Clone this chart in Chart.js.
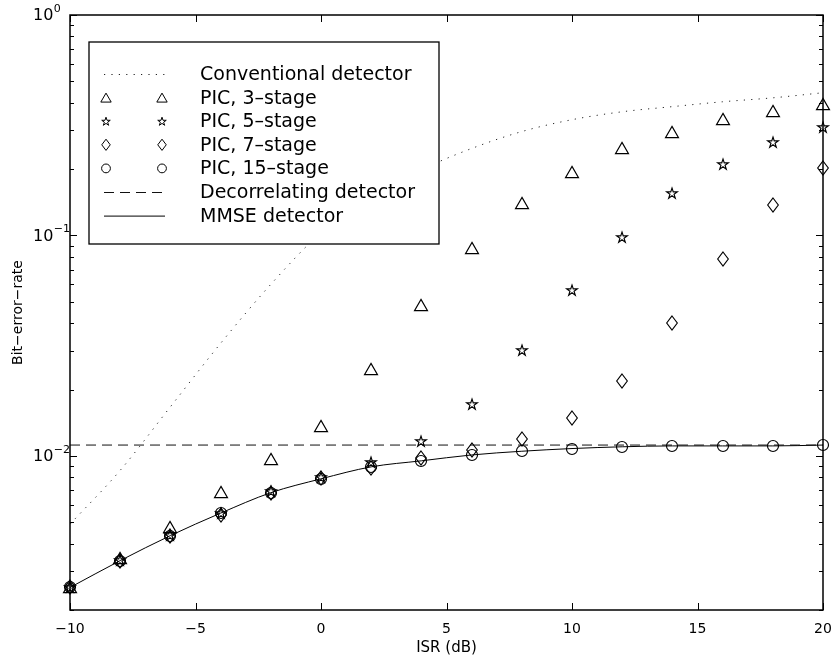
<!DOCTYPE html>
<html>
<head>
<meta charset="utf-8">
<title>Bit-error-rate vs ISR</title>
<script src="https://cdn.jsdelivr.net/npm/chart.js@4/dist/chart.umd.min.js"></script>
<style>
  html, body { margin: 0; padding: 0; background: #fff; }
  #wrap { width: 833px; height: 657px; }
</style>
</head>
<body>
<div id="wrap"><canvas id="ber" width="833" height="657"></canvas></div>
<script>
// Interference-to-signal ratio grid (dB)
const isr = [-10, -8, -6, -4, -2, 0, 2, 4, 6, 8, 10, 12, 14, 16, 18, 20];

// Bit-error-rate per detector
const conventional = [0.0049, 0.0086, 0.0167, 0.0324, 0.060, 0.103, 0.152, 0.199, 0.248, 0.296, 0.335, 0.364, 0.384, 0.404, 0.421, 0.444];
const pic3  = [0.00255, 0.00346, 0.00477, 0.00687, 0.0097, 0.0137, 0.0248, 0.0482, 0.0873, 0.140, 0.195, 0.250, 0.296, 0.338, 0.368, 0.396];
const pic5  = [0.00253, 0.00337, 0.0044, 0.0055, 0.0069, 0.0080, 0.0094, 0.0117, 0.0172, 0.0302, 0.0564, 0.0989, 0.155, 0.212, 0.266, 0.311];
const pic7  = [0.00253, 0.00335, 0.00435, 0.0054, 0.0068, 0.0079, 0.0088, 0.0098, 0.0106, 0.0119, 0.0149, 0.0218, 0.040, 0.0778, 0.137, 0.203];
const pic15 = [0.00253, 0.00335, 0.00435, 0.0055, 0.00681, 0.00787, 0.00892, 0.0095, 0.0101, 0.0105, 0.0108, 0.0110, 0.0111, 0.0111, 0.0111, 0.0112];
const mmse  = [0.00253, 0.00335, 0.00435, 0.0055, 0.00681, 0.00787, 0.00892, 0.0095, 0.0101, 0.0105, 0.0108, 0.0110, 0.0111, 0.0111, 0.0111, 0.0112];
const decorrelatingIsr = [-10, 20];
const decorrelating = [0.0112, 0.0112];

// Axis ticks
const xTicks = [-10, -5, 0, 5, 10, 15, 20];
const yDecades = [1, 0.1, 0.01];

const FONT = '"DejaVu Sans", "Liberation Sans", sans-serif';

// Marker outlines in the style of classic plotting markers
function markerPath(ctx, kind, cx, cy, s) {
  ctx.beginPath();
  if (kind === 'triangle') {
    const w = 6.5 * s, h = 5.6 * s;
    ctx.moveTo(cx, cy - h);
    ctx.lineTo(cx + w, cy + h);
    ctx.lineTo(cx - w, cy + h);
    ctx.closePath();
  } else if (kind === 'pentagram') {
    const R = 5.6 * s, r = R * 0.382;
    for (let i = 0; i < 10; i++) {
      const ang = -Math.PI / 2 + i * Math.PI / 5;
      const rad = i % 2 ? r : R;
      const px = cx + rad * Math.cos(ang), py = cy + rad * Math.sin(ang) + 0.6 * s;
      if (i === 0) ctx.moveTo(px, py); else ctx.lineTo(px, py);
    }
    ctx.closePath();
  } else if (kind === 'diamond') {
    const w = 5.3 * s, h = 7 * s;
    ctx.moveTo(cx, cy - h);
    ctx.lineTo(cx + w, cy);
    ctx.lineTo(cx, cy + h);
    ctx.lineTo(cx - w, cy);
    ctx.closePath();
  } else if (kind === 'circle') {
    ctx.arc(cx, cy, 5.5 * s, 0, Math.PI * 2);
  }
}

function markerImage(kind) {
  const c = document.createElement('canvas');
  c.width = 18; c.height = 18;
  const g = c.getContext('2d');
  g.strokeStyle = '#000';
  g.lineWidth = 1.15;
  markerPath(g, kind, 9, 9, 1);
  g.stroke();
  return c;
}

const markers = {
  triangle: markerImage('triangle'),
  pentagram: markerImage('pentagram'),
  diamond: markerImage('diamond'),
  circle: markerImage('circle')
};

const pts = (xs, ys) => xs.map((x, i) => ({ x, y: ys[i] }));

function markerSet(label, values, kind) {
  return {
    label, data: pts(isr, values), showLine: false,
    pointStyle: markers[kind], pointRadius: 8, pointHoverRadius: 8,
    borderColor: '#000', backgroundColor: 'rgba(0,0,0,0)',
    clip: false, marker: kind
  };
}

const datasets = [
  { label: 'Conventional detector', data: pts(isr, conventional), showLine: true,
    borderColor: '#222', borderWidth: 1, borderDash: [1.2, 6.2], pointRadius: 0,
    cubicInterpolationMode: 'monotone' },
  markerSet('PIC, 3\u2013stage', pic3, 'triangle'),
  markerSet('PIC, 5\u2013stage', pic5, 'pentagram'),
  markerSet('PIC, 7\u2013stage', pic7, 'diamond'),
  markerSet('PIC, 15\u2013stage', pic15, 'circle'),
  { label: 'Decorrelating detector', data: pts(decorrelatingIsr, decorrelating), showLine: true,
    borderColor: '#111', borderWidth: 1, borderDash: [10, 6], pointRadius: 0 },
  { label: 'MMSE detector', data: pts(isr, mmse), showLine: true,
    borderColor: '#000', borderWidth: 1, pointRadius: 0,
    cubicInterpolationMode: 'monotone' }
];

// Keep marker bitmaps crisp on the pixel grid
const crispMarkers = {
  id: 'crispMarkers',
  beforeDatasetsDraw(chart) { chart.ctx.imageSmoothingEnabled = false; },
  afterDatasetsDraw(chart) { chart.ctx.imageSmoothingEnabled = true; }
};

// Box, inward ticks and superscripted decade labels
const axisFrame = {
  id: 'axisFrame',
  afterDatasetsDraw(chart) {
    const { ctx, chartArea: a, scales: { x, y } } = chart;
    ctx.save();
    ctx.strokeStyle = '#000';
    ctx.lineWidth = 1;
    ctx.beginPath();
    xTicks.forEach(v => {
      const px = Math.round(x.getPixelForValue(v)) + 0.5;
      ctx.moveTo(px, a.bottom); ctx.lineTo(px, a.bottom - 7);
      ctx.moveTo(px, a.top); ctx.lineTo(px, a.top + 7);
    });
    for (let e = -3; e <= 0; e++) {
      for (let m = 1; m <= 9; m++) {
        const v = m * Math.pow(10, e);
        if (v < y.min * 0.999 || v > y.max * 1.001) continue;
        const len = m === 1 ? 7 : 4;
        const py = Math.round(y.getPixelForValue(v)) + 0.5;
        ctx.moveTo(a.left, py); ctx.lineTo(a.left + len, py);
        ctx.moveTo(a.right, py); ctx.lineTo(a.right - len, py);
      }
    }
    ctx.stroke();
    ctx.lineWidth = 1.5;
    ctx.strokeRect(a.left, a.top, a.width, a.height);

    ctx.fillStyle = '#000';
    ctx.textBaseline = 'middle';
    ctx.textAlign = 'left';
    yDecades.forEach(v => {
      const py = y.getPixelForValue(v);
      const exp = Math.round(Math.log10(v));
      ctx.font = '16px ' + FONT;
      ctx.fillText('10', 33, py + 1);
      const w = ctx.measureText('10').width;
      ctx.font = '11px ' + FONT;
      ctx.fillText(exp < 0 ? '\u2212' + (-exp) : String(exp), 33 + w + 0.5, py - 6);
    });
    ctx.restore();
  }
};

// Boxed legend in the upper-left of the plot
const boxLegend = {
  id: 'boxLegend',
  afterDraw(chart) {
    const { ctx } = chart;
    const box = { left: 89, top: 42, right: 439, bottom: 244 };
    const row0 = 74, rowStep = 23.6, x1 = 106, x2 = 162, textX = 200;
    ctx.save();
    ctx.fillStyle = '#fff';
    ctx.fillRect(box.left, box.top, box.right - box.left, box.bottom - box.top);
    ctx.strokeStyle = '#000';
    ctx.lineWidth = 1.3;
    ctx.strokeRect(box.left, box.top, box.right - box.left, box.bottom - box.top);
    chart.data.datasets.forEach((ds, i) => {
      const yy = row0 + i * rowStep;
      ctx.strokeStyle = ds.borderColor;
      ctx.lineWidth = 1;
      if (ds.marker) {
        [x1, x2].forEach(mx => { markerPath(ctx, ds.marker, mx, yy, 0.8); ctx.stroke(); });
      } else {
        ctx.setLineDash(ds.borderDash || []);
        ctx.beginPath();
        ctx.moveTo(x1 - 2, yy + 0.5);
        ctx.lineTo(x2 + 3, yy + 0.5);
        ctx.stroke();
        ctx.setLineDash([]);
      }
      ctx.fillStyle = '#000';
      ctx.font = '19px ' + FONT;
      ctx.textBaseline = 'middle';
      ctx.fillText(ds.label, textX, yy + 1);
    });
    ctx.restore();
  }
};

new Chart(document.getElementById('ber'), {
  type: 'scatter',
  data: { datasets },
  options: {
    responsive: false,
    animation: false,
    devicePixelRatio: 1,
    layout: { padding: { top: 15, right: 10, left: 0, bottom: 0 } },
    plugins: { legend: { display: false }, tooltip: { enabled: false } },
    scales: {
      x: {
        type: 'linear', min: -10, max: 20,
        afterBuildTicks: s => { s.ticks = xTicks.map(v => ({ value: v })); },
        afterFit: s => { s.height = 47; s.paddingLeft = 0; s.paddingRight = 0; },
        grid: { display: false, drawTicks: false },
        border: { display: false },
        ticks: {
          autoSkip: false, maxRotation: 0, padding: 11, color: '#000',
          font: { family: FONT, size: 14 },
          callback: v => (v < 0 ? '\u2212' + (-v) : String(v))
        },
        title: { display: true, text: 'ISR (dB)', color: '#000',
          font: { family: FONT, size: 15 }, padding: { top: 0, bottom: 0 } }
      },
      y: {
        type: 'logarithmic', min: 0.002, max: 1,
        afterFit: s => { s.width = 70; s.paddingTop = 0; s.paddingBottom = 0; },
        grid: { display: false, drawTicks: false },
        border: { display: false },
        ticks: { display: false },
        title: { display: true, text: 'Bit\u2212error\u2212rate', color: '#000',
          font: { family: FONT, size: 14 }, padding: { top: 10, bottom: 0 } }
      }
    }
  },
  plugins: [crispMarkers, axisFrame, boxLegend]
});
</script>
</body>
</html>
